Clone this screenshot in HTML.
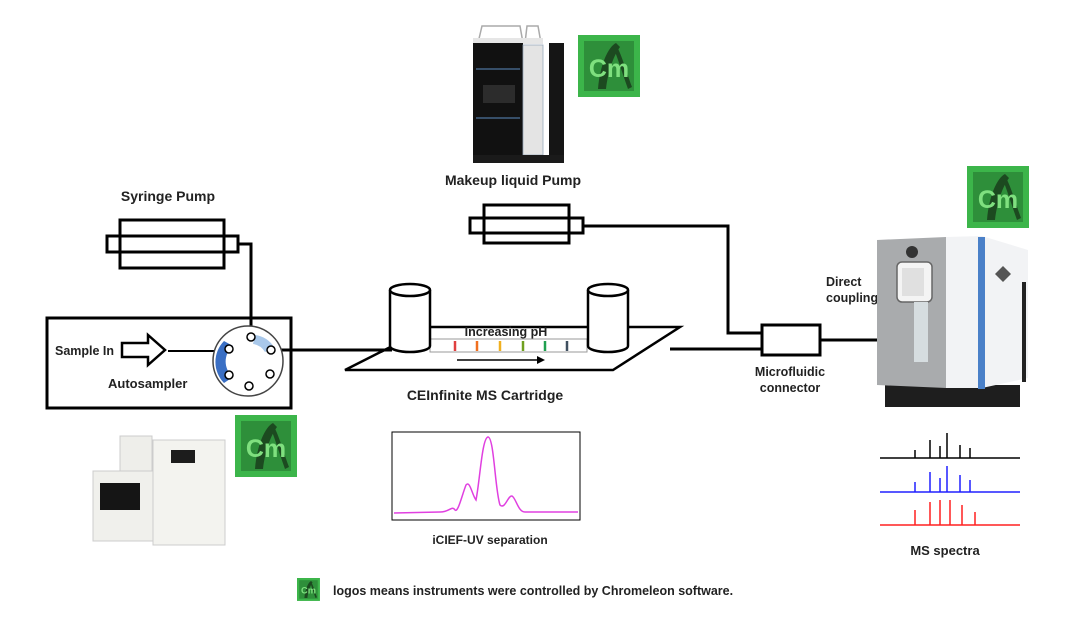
<!DOCTYPE html>
<html><head><meta charset="utf-8"><style>
html,body{margin:0;padding:0;background:#fff;}
svg{display:block;font-family:"Liberation Sans",Arial,sans-serif;}
</style></head><body>
<svg width="1080" height="623" viewBox="0 0 1080 623" xmlns="http://www.w3.org/2000/svg">
<defs>
<g id="cm">
<rect x="0" y="0" width="62" height="62" fill="#3cb54a"/>
<rect x="6" y="6" width="50" height="50" fill="#2e8f3a"/>
<path d="M20 54 C22 30 30 12 38 8 L42 12 C36 20 30 36 28 54 Z" fill="#1c4a20"/>
<path d="M38 10 C44 20 48 36 54 52 L50 54 C45 40 40 24 36 14 Z" fill="#1c4a20"/>
<text x="31" y="42" font-size="25" font-weight="bold" text-anchor="middle" fill="#7fe07f">Cm</text>
</g>
</defs>
<g fill="none" stroke="#000" stroke-width="3">
<rect x="120" y="220" width="104" height="48"/>
<rect x="107" y="236" width="131" height="16"/>
<polyline points="238,244 251,244 251,337"/>
<rect x="47" y="318" width="244" height="90"/>
<rect x="484" y="205" width="85" height="38"/>
<rect x="470" y="218" width="113" height="15"/>
<polyline points="583,226 728,226 728,333 762,333"/>
<line x1="168" y1="351" x2="228" y2="351" stroke-width="2"/>
<line x1="271" y1="350" x2="392" y2="350"/>
<line x1="670" y1="349" x2="762" y2="349"/>
<rect x="762" y="325" width="58" height="30"/>
<line x1="820" y1="340" x2="880" y2="340"/>
<polygon points="345,370 430,327 680,327 613,370" stroke-width="2.5"/>
</g>
<polygon points="122,343 148,343 148,335 165,350 148,365 148,357 122,357" fill="#fff" stroke="#000" stroke-width="2.5"/>
<circle cx="248" cy="361" r="35" fill="#fff" stroke="#444" stroke-width="1.5"/>
<path d="M233 346 A20 20 0 0 0 233 377 L224 383 A30 30 0 0 1 224 341 Z" fill="#3a6fc4"/>
<path d="M255 335 A27 27 0 0 1 274 347 L265 352 A17 17 0 0 0 253 344 Z" fill="#a9c8ea"/>
<g fill="#fff" stroke="#000" stroke-width="1.5">
<circle cx="251" cy="337" r="4"/><circle cx="271" cy="350" r="4"/><circle cx="270" cy="374" r="4"/>
<circle cx="249" cy="386" r="4"/><circle cx="229" cy="375" r="4"/><circle cx="229" cy="349" r="4"/>
</g>
<rect x="430" y="339" width="157" height="13" fill="#fff" stroke="#999" stroke-width="1"/>
<g stroke-width="2.5">
<line x1="455" y1="341" x2="455" y2="351" stroke="#e04040"/>
<line x1="477" y1="341" x2="477" y2="351" stroke="#f07020"/>
<line x1="500" y1="341" x2="500" y2="351" stroke="#f0b020"/>
<line x1="523" y1="341" x2="523" y2="351" stroke="#70a020"/>
<line x1="545" y1="341" x2="545" y2="351" stroke="#20a050"/>
<line x1="567" y1="341" x2="567" y2="351" stroke="#405060"/>
</g>
<line x1="457" y1="360" x2="540" y2="360" stroke="#000" stroke-width="1.5"/>
<polygon points="545,360 537,356 537,364" fill="#000"/>
<g fill="#fff" stroke="#000" stroke-width="2.5">
<path d="M390 290 L390 346 A20 6 0 0 0 430 346 L430 290"/>
<ellipse cx="410" cy="290" rx="20" ry="6"/>
<path d="M588 290 L588 346 A20 6 0 0 0 628 346 L628 290"/>
<ellipse cx="608" cy="290" rx="20" ry="6"/>
</g>
<g font-weight="bold" fill="#222">
<text x="168" y="201" font-size="14" text-anchor="middle">Syringe Pump</text>
<text x="513" y="185" font-size="14" text-anchor="middle">Makeup liquid Pump</text>
<text x="55" y="355" font-size="12.5">Sample In</text>
<text x="108" y="388" font-size="13">Autosampler</text>
<text x="506" y="336" font-size="12.5" text-anchor="middle">Increasing pH</text>
<text x="485" y="400" font-size="14" text-anchor="middle">CEInfinite MS Cartridge</text>
<text x="826" y="286" font-size="12.5">Direct</text>
<text x="826" y="302" font-size="12.5">coupling</text>
<text x="790" y="376" font-size="12.5" text-anchor="middle">Microfluidic</text>
<text x="790" y="392" font-size="12.5" text-anchor="middle">connector</text>
<text x="490" y="544" font-size="12" text-anchor="middle">iCIEF-UV  separation</text>
<text x="945" y="555" font-size="13" text-anchor="middle">MS spectra</text>
<text x="333" y="595" font-size="12.5">logos means instruments were controlled by Chromeleon software.</text>
</g>
<rect x="392" y="432" width="188" height="88" fill="#fff" stroke="#000" stroke-width="1"/>
<path d="M394 513 L440 512 C450 512 452 505 455 510 C458 513 462 495 466 485 C470 480 472 495 476 500 C480 480 482 438 488 437 C494 437 495 490 500 505 C505 510 508 495 512 496 C516 498 518 512 525 512 L578 512" fill="none" stroke="#e040e0" stroke-width="1.5"/>
<use href="#cm" x="578" y="35"/>
<use href="#cm" x="967" y="166"/>
<use href="#cm" x="235" y="415"/>
<g transform="translate(297,578) scale(0.37)"><use href="#cm"/></g>
<path d="M478 43 L482 26 L520 26 L523 43 M525 43 L527 26 L538 26 L541 43" fill="none" stroke="#aaa" stroke-width="1.5"/>
<rect x="473" y="38" width="70" height="6" fill="#e6e6e6"/>
<rect x="473" y="43" width="50" height="117" fill="#111"/>
<rect x="523" y="45" width="20" height="110" fill="#e4e4e4" stroke="#9ab" stroke-width="0.8"/>
<rect x="549" y="43" width="15" height="113" fill="#151515"/>
<rect x="473" y="155" width="91" height="8" fill="#1a1a1a"/>
<rect x="483" y="85" width="32" height="18" fill="#2c2c2c"/>
<line x1="476" y1="69" x2="520" y2="69" stroke="#5a8ac0" stroke-width="1"/>
<line x1="476" y1="118" x2="520" y2="118" stroke="#5a8ac0" stroke-width="1"/>
<rect x="885" y="385" width="135" height="22" fill="#1e1e1e"/>
<polygon points="877,240 946,237 946,388 877,385" fill="#a9abad"/>
<polygon points="946,237 982,236 1028,250 1028,378 982,388 946,388" fill="#f2f3f5"/>
<rect x="978" y="237" width="7" height="152" fill="#4a80c8"/>
<rect x="1022" y="282" width="4" height="100" fill="#222"/>
<rect x="897" y="262" width="35" height="40" rx="5" fill="#f4f4f4" stroke="#666" stroke-width="1.5"/>
<rect x="902" y="268" width="22" height="28" fill="#e0e0e0"/>
<rect x="914" y="302" width="14" height="60" fill="#d6dde0"/>
<circle cx="912" cy="252" r="6" fill="#333"/>
<polygon points="995,274 1003,266 1011,274 1003,282" fill="#555"/>
<rect x="120" y="436" width="32" height="38" fill="#eeeeea" stroke="#ccc"/>
<rect x="93" y="471" width="60" height="70" fill="#f0f0ec" stroke="#ccc"/>
<rect x="100" y="483" width="40" height="27" fill="#151515"/>
<rect x="153" y="440" width="72" height="105" fill="#f3f3ef" stroke="#ccc"/>
<rect x="171" y="450" width="24" height="13" fill="#1c1c1c"/>
<g stroke-width="1.5">
<g stroke="#000"><line x1="880" y1="458" x2="1020" y2="458"/><line x1="930" y1="458" x2="930" y2="440"/><line x1="947" y1="458" x2="947" y2="433"/><line x1="960" y1="458" x2="960" y2="445"/><line x1="970" y1="458" x2="970" y2="448"/><line x1="915" y1="458" x2="915" y2="450"/><line x1="940" y1="458" x2="940" y2="446"/></g>
<g stroke="#2020ff"><line x1="880" y1="492" x2="1020" y2="492"/><line x1="930" y1="492" x2="930" y2="472"/><line x1="947" y1="492" x2="947" y2="466"/><line x1="960" y1="492" x2="960" y2="475"/><line x1="970" y1="492" x2="970" y2="480"/><line x1="915" y1="492" x2="915" y2="482"/><line x1="940" y1="492" x2="940" y2="478"/></g>
<g stroke="#ff2020"><line x1="880" y1="525" x2="1020" y2="525"/><line x1="930" y1="525" x2="930" y2="502"/><line x1="940" y1="525" x2="940" y2="500"/><line x1="950" y1="525" x2="950" y2="500"/><line x1="962" y1="525" x2="962" y2="505"/><line x1="915" y1="525" x2="915" y2="510"/><line x1="975" y1="525" x2="975" y2="512"/></g>
</g>
</svg>
</body></html>
